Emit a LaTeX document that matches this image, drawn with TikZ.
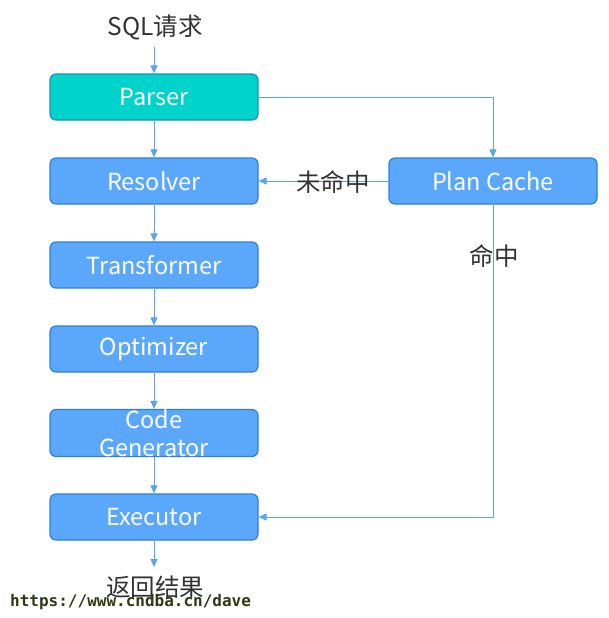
\documentclass[tikz,border=0pt]{standalone}
\usepackage{fontspec}
\setmainfont{Noto Sans CJK SC}
\newfontfamily\wmfont{DejaVu Sans Mono}
\usetikzlibrary{arrows.meta}
\definecolor{boxfill}{HTML}{5AA7FC}
\definecolor{boxline}{HTML}{2F7FD6}
\definecolor{parfill}{HTML}{00D3CC}
\definecolor{parline}{HTML}{1E8FB8}
\definecolor{arr}{HTML}{5BA3EE}
\definecolor{txt}{HTML}{333333}
\definecolor{wm}{HTML}{2E3A12}
\tikzset{
  stagebox/.style={draw=boxline, fill=boxfill, line width=1.2pt, rounded corners=6pt,
    minimum width=208pt, minimum height=46pt, inner sep=0pt, text=white,
    font=\fontsize{23.5}{28}\selectfont},
  flow/.style={draw=arr, line width=1pt, -{Triangle[length=8pt,width=7pt]}},
  lbl/.style={text=txt, font=\fontsize{24.5}{28}\selectfont, inner sep=0pt}
}
\begin{document}
\begin{tikzpicture}[x=1pt,y=-1pt]
\useasboundingbox (0,0) rectangle (608,618);
\node[lbl] (sql) at (155,27) {SQL请求};
\node[stagebox, fill=parfill, draw=parline] (parser) at (154,97) {Parser};
\node[stagebox] (resolver) at (154,181) {Resolver};
\node[stagebox] (trans) at (154,265) {Transformer};
\node[stagebox] (opt) at (154,349) {Optimizer};
\node[stagebox, align=center, font=\fontsize{23.5}{28}\selectfont] (code) at (154,433) {Code\\Generator};
\node[stagebox] (exec) at (154,517) {Executor};
\node[stagebox] (cache) at (493,181) {Plan Cache};
\node[lbl] (res) at (155,587) {返回结果};
\coordinate (sqlend) at (154,47);
\coordinate (resend) at (154,567);
\draw[flow] (sqlend) -- (parser.north);
\draw[flow] (parser) -- (resolver);
\draw[flow] (resolver) -- (trans);
\draw[flow] (trans) -- (opt);
\draw[flow] (opt) -- (code);
\draw[flow] (code) -- (exec);
\draw[flow] (exec.south) -- (resend);
\draw[flow] (parser.east) -| (cache.north);
\draw[flow] (cache.west) -- (resolver.east);
\draw[flow] (cache.south) |- (exec.east);
\node[lbl] (miss) at (333,182) {未命中};
\node[lbl] (hit) at (494,256) {命中};
\node[text=wm, font=\wmfont\bfseries\fontsize{16}{18}\selectfont, anchor=west, inner sep=0pt] (wmark) at (10,602) {https://www.cndba.cn/dave};
\end{tikzpicture}
\end{document}
